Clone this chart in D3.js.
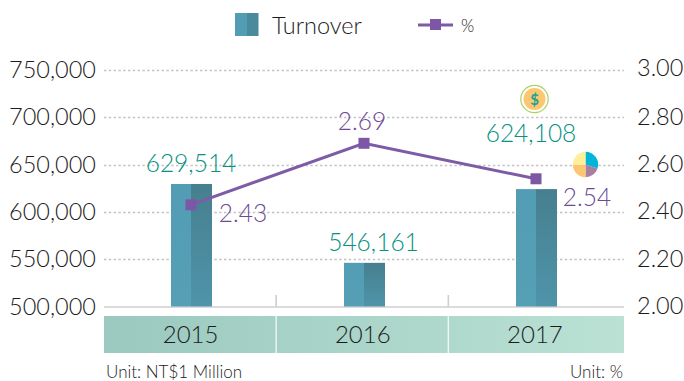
<!DOCTYPE html>
<html><head><meta charset="utf-8">
<script src="https://cdn.jsdelivr.net/npm/d3@7/dist/d3.min.js"></script>
<style>html,body{margin:0;padding:0;background:#fff}svg{display:block}text{font-family:Lato,"Open Sans",sans-serif;font-weight:300}</style>
</head><body><svg id="c" width="684" height="381"></svg>
<script>
const categories=["2015","2016","2017"];
const turnover=[629514,546161,624108];
const percent=[2.43,2.69,2.54];
const leftTicks=[500000,550000,600000,650000,700000,750000];
const rightTicks=[2.0,2.2,2.4,2.6,2.8,3.0];
const pieShares=[30,20,25,25];
const pieColors=["#00b5d8","#a97f9f","#fdc671","#fef09a"];
const svg=d3.select("#c");
const defs=svg.append("defs");
const L=104,R=624,T=70,B=306.5;
const x=d3.scaleBand().domain(categories).range([L,620.5]);
const y=d3.scaleLinear().domain([500000,750000]).range([B,T]);
const y2=d3.scaleLinear().domain([2,3]).range([B,T]);
const grad=(id,a,b)=>{const g=defs.append("linearGradient").attr("id",id).attr("x1",0).attr("x2",1).attr("y1",0).attr("y2",0);
 g.append("stop").attr("offset",0).attr("stop-color",a);g.append("stop").attr("offset",1).attr("stop-color",b);};
grad("band","#9bc9bf","#bae1d4");
const vg=(id,a,b)=>{const g=defs.append("linearGradient").attr("id",id).attr("x1",0).attr("x2",0).attr("y1",0).attr("y2",1);
 g.append("stop").attr("offset",0).attr("stop-color",a);g.append("stop").attr("offset",1).attr("stop-color",b);};
vg("barL","#539db4","#56a0b6");vg("barR","#467f8f","#4f94aa");

// grid
svg.append("g").selectAll("line").data(leftTicks.slice(1)).join("line")
 .attr("x1",L).attr("x2",R).attr("y1",d=>Math.round(y(d))+.5).attr("y2",d=>Math.round(y(d))+.5)
 .attr("stroke","#c4c4c4").attr("stroke-width",1.4).attr("stroke-dasharray","2.4 2.4");
// baseline & ticks
svg.append("line").attr("x1",L).attr("x2",R).attr("y1",307).attr("y2",307).attr("stroke","#cfcfcf").attr("stroke-width",1.6);
svg.append("g").selectAll("line").data(categories.slice(1)).join("line")
 .attr("x1",d=>x(d)).attr("x2",d=>x(d)).attr("y1",295).attr("y2",307).attr("stroke","#cfcfcf").attr("stroke-width",1.6);
// category band
svg.append("rect").attr("x",L).attr("y",316).attr("width",R-L).attr("height",37).attr("fill","url(#band)");
svg.append("g").selectAll("line").data(categories.slice(1)).join("line")
 .attr("x1",d=>x(d)).attr("x2",d=>x(d)).attr("y1",316).attr("y2",353).attr("stroke","#fff").attr("stroke-opacity",.8).attr("stroke-width",1.4);
svg.append("g").selectAll("text").data(categories).join("text")
 .attr("x",d=>x(d)+x.bandwidth()/2+.5).attr("y",343).attr("text-anchor","middle")
 .attr("font-size",24).attr("fill","#1c1c1c").text(d=>d);
// bars
const cx=d=>Math.round(x(d)+x.bandwidth()/2+1.3);
const bars=svg.append("g").selectAll("g").data(categories).join("g");
bars.append("rect").attr("x",d=>cx(d)-20).attr("width",20)
 .attr("y",(d,i)=>y(turnover[i])).attr("height",(d,i)=>B-y(turnover[i])).attr("fill","url(#barL)");
bars.append("rect").attr("x",d=>cx(d)).attr("width",21)
 .attr("y",(d,i)=>y(turnover[i])).attr("height",(d,i)=>B-y(turnover[i])).attr("fill","url(#barR)");
// line
const pts=categories.map((c,i)=>[cx(c),y2(percent[i])]);
svg.append("path").attr("d",d3.line()(pts)).attr("fill","none").attr("stroke","#7d5ba6").attr("stroke-width",3);
svg.append("g").selectAll("rect").data(pts).join("rect")
 .attr("x",d=>d[0]-5.5).attr("y",d=>d[1]-5.5).attr("width",11).attr("height",11).attr("fill","#7d57a6");
// axis labels
const fmt=d3.format(",");
svg.append("g").selectAll("text").data(leftTicks).join("text")
 .attr("x",96).attr("y",d=>y(d)+8).attr("text-anchor","end").attr("font-size",23.5).attr("fill","#1c1c1c").text(fmt);
svg.append("g").selectAll("text").data(rightTicks).join("text")
 .attr("x",637).attr("y",d=>(d===3?y2(d)-1.5:y2(d))+7.5).attr("font-size",23.5).attr("fill","#1c1c1c").text(d=>d.toFixed(2));
// value labels
const valOff=[[191,172],[373.5,251],[531,142]];
svg.append("g").selectAll("text").data(turnover).join("text")
 .attr("x",(d,i)=>valOff[i][0]).attr("y",(d,i)=>valOff[i][1]).attr("text-anchor","middle")
 .attr("font-size",24.5).attr("fill","#07917f").text(fmt);
const pctOff=[[243,222],[362,130],[587,206]];
svg.append("g").selectAll("text").data(percent).join("text")
 .attr("x",(d,i)=>pctOff[i][0]).attr("y",(d,i)=>pctOff[i][1]).attr("text-anchor","middle")
 .attr("font-size",24.5).attr("fill","#6c4a98").text(d=>d.toFixed(2));
// legend
svg.append("rect").attr("x",235).attr("y",13).attr("width",12).attr("height",23).attr("fill","#539db4");
svg.append("rect").attr("x",247).attr("y",13).attr("width",11.5).attr("height",23).attr("fill","#4a8a9c");
svg.append("text").attr("x",272).attr("y",34).attr("font-size",23.5).attr("fill","#1c1c1c").text("Turnover");
svg.append("line").attr("x1",418).attr("x2",453).attr("y1",25).attr("y2",25).attr("stroke","#7d5ba6").attr("stroke-width",3);
svg.append("rect").attr("x",430).attr("y",19).attr("width",11).attr("height",11).attr("fill","#7d57a6");
svg.append("text").attr("x",461).attr("y",32).attr("font-size",17).attr("fill","#1c1c1c").text("%");
// units
svg.append("text").attr("x",106).attr("y",378).attr("font-size",17).attr("fill","#1c1c1c").text("Unit: NT$1 Million");
svg.append("text").attr("x",623).attr("y",378).attr("text-anchor","end").attr("font-size",17).attr("fill","#1c1c1c").text("Unit: %");
// coin icon
const coin=svg.append("g").attr("transform","translate(534.5,99)");
coin.append("circle").attr("r",13.7).attr("fill","#fff").attr("stroke","#a9d35f").attr("stroke-width",1.2);
coin.append("circle").attr("r",11).attr("fill","#fdc671");
coin.append("text").attr("y",5.5).attr("text-anchor","middle").attr("font-size",15).style("font-weight",700).attr("fill","#17a595").text("$");
// pie icon
const pie=d3.pie().sort(null)(pieShares);
const arc=d3.arc().innerRadius(0).outerRadius(12.7);
svg.append("g").attr("transform","translate(585.5,164.5)").selectAll("path").data(pie).join("path")
 .attr("d",arc).attr("fill",(d,i)=>pieColors[i]);
</script></body></html>
